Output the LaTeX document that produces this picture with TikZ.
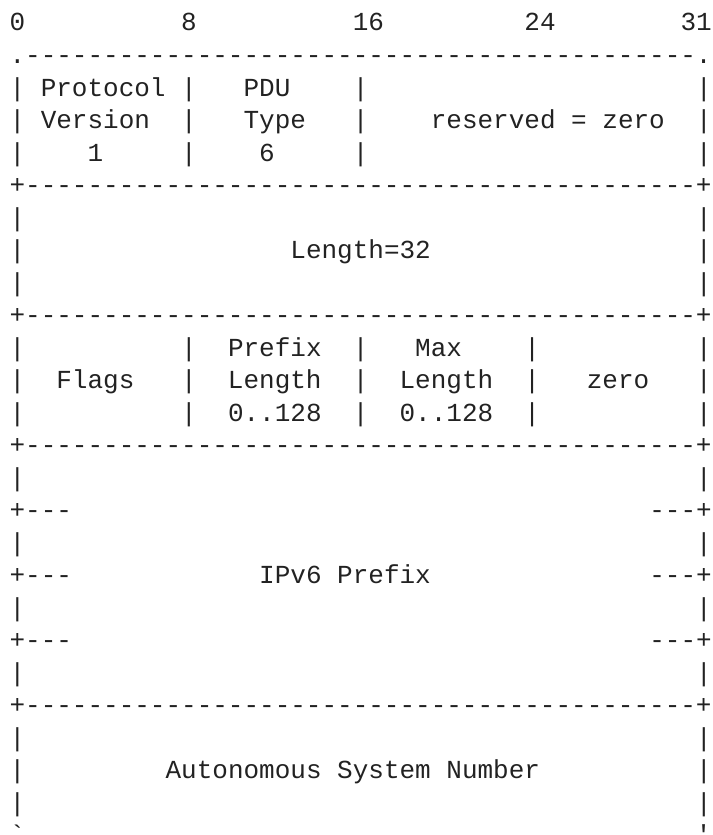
\documentclass[tikz,border=0pt]{standalone}
\usepackage{fontspec}
\setmonofont{Liberation Mono}
\definecolor{ink}{HTML}{222222}
\tikzset{
  asciirow/.style={anchor=base west, inner sep=0pt, text=ink,
    font=\fontsize{13pt}{16.25pt}\selectfont\ttfamily\frenchspacing\obeyspaces}
}
\begin{document}
\begin{tikzpicture}[x=1pt,y=1pt]
\useasboundingbox (0,0) rectangle (356,-417.5);
% bit ruler
\node[asciirow] (bits) at (4.6,-15.5) {0          8          16         24        31};
\node[asciirow] (top) at (4.6,-31.75) {.-------------------------------------------.};
% version / type
\node[asciirow] (hdrA) at (4.6,-48) {| Protocol |   PDU    |                     |};
\node[asciirow] (hdrB) at (4.6,-64.25) {| Version  |   Type   |    reserved = zero  |};
\node[asciirow] (hdrC) at (4.6,-80.5) {|    1     |    6     |                     |};
\node[asciirow] (sepA) at (4.6,-96.75) {+-------------------------------------------+};
% length
\node[asciirow] (lenA) at (4.6,-113) {|                                           |};
\node[asciirow] (lenB) at (4.6,-129.25) {|                 Length=32                 |};
\node[asciirow] (lenC) at (4.6,-145.5) {|                                           |};
\node[asciirow] (sepB) at (4.6,-161.75) {+-------------------------------------------+};
% flags and lengths
\node[asciirow] (flgA) at (4.6,-178) {|          |  Prefix  |   Max    |          |};
\node[asciirow] (flgB) at (4.6,-194.25) {|  Flags   |  Length  |  Length  |   zero   |};
\node[asciirow] (flgC) at (4.6,-210.5) {|          |  0..128  |  0..128  |          |};
\node[asciirow] (sepC) at (4.6,-226.75) {+-------------------------------------------+};
% prefix
\node[asciirow] (pfxA) at (4.6,-243) {|                                           |};
\node[asciirow] (pfxB) at (4.6,-259.25) {+---                                     ---+};
\node[asciirow] (pfxC) at (4.6,-275.5) {|                                           |};
\node[asciirow] (pfxD) at (4.6,-291.75) {+---            IPv6 Prefix              ---+};
\node[asciirow] (pfxE) at (4.6,-308) {|                                           |};
\node[asciirow] (pfxF) at (4.6,-324.25) {+---                                     ---+};
\node[asciirow] (pfxG) at (4.6,-340.5) {|                                           |};
\node[asciirow] (sepD) at (4.6,-356.75) {+-------------------------------------------+};
% AS number
\node[asciirow] (asnA) at (4.6,-373) {|                                           |};
\node[asciirow] (asnB) at (4.6,-389.25) {|         Autonomous System Number          |};
\node[asciirow] (asnC) at (4.6,-405.5) {|                                           |};
\node[asciirow] (bottom) at (4.6,-421.75) {`-------------------------------------------'};
\end{tikzpicture}
\end{document}
